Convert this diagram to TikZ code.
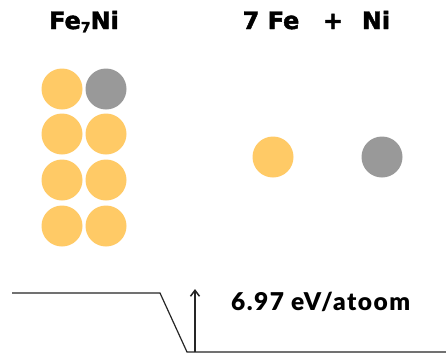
\documentclass[tikz,border=0pt]{standalone}
\usepackage{fontspec}
\setmainfont{DejaVu Sans}
\newfontfamily\titlefont[BoldFont={DejaVu Sans Bold},BoldFeatures={FakeBold=1.8}]{DejaVu Sans}
\newfontfamily\lblfont[LetterSpace=6]{Lato Black}
\usetikzlibrary{arrows.meta}
\definecolor{fecol}{RGB}{255,202,102}
\definecolor{nicol}{RGB}{153,153,153}
\begin{document}
\begin{tikzpicture}[x=1pt,y=-1pt,
  atomfe/.style={circle,fill=fecol,minimum size=41pt,inner sep=0pt},
  atomni/.style={circle,fill=nicol,minimum size=41pt,inner sep=0pt},
  title/.style={font=\titlefont\bfseries\fontsize{24}{28}\selectfont,inner sep=0pt,anchor=base},
  level/.style={line width=1.2pt,black!85},
  energy/.style={font=\lblfont\fontsize{24.5}{28}\selectfont,inner sep=0pt,anchor=base west}]
\useasboundingbox[fill=white] (0,0) rectangle (446,356);
% titles
\node[title] (t1) at (84,29) {Fe\raisebox{-0.25ex}{\fontsize{14}{16}\selectfont 7}Ni};
\node[title] (t2) at (271,29) {7 Fe};
\node[title] (t3) at (333,29) {+};
\node[title] (t4) at (376,29) {Ni};
% Fe7Ni cluster
\node[atomfe] (a11) at (62,89) {};
\node[atomni] (a12) at (106,89) {};
\node[atomfe] (a21) at (62,134) {};
\node[atomfe] (a22) at (106,134) {};
\node[atomfe] (a31) at (62,180) {};
\node[atomfe] (a32) at (106,180) {};
\node[atomfe] (a41) at (62,226) {};
\node[atomfe] (a42) at (106,226) {};
% separate atoms
\node[atomfe] (fe) at (273,157) {};
\node[atomni] (ni) at (382,157) {};
% energy levels
\coordinate (l1) at (12,293);
\coordinate (l2) at (160,293);
\coordinate (l3) at (187,352);
\coordinate (l4) at (446,352);
\coordinate (ab) at (195,352);
\coordinate (at) at (195,289);
\draw[level,line join=miter] (l1) -- (l2) -- (l3) -- (l4);
\draw[level,line width=1.5pt,-{Straight Barb[length=6pt,width=9pt]}] (ab) -- (at);
\node[energy] (lbl) at (231,310) {6.97 eV/atoom};
\end{tikzpicture}
\end{document}
